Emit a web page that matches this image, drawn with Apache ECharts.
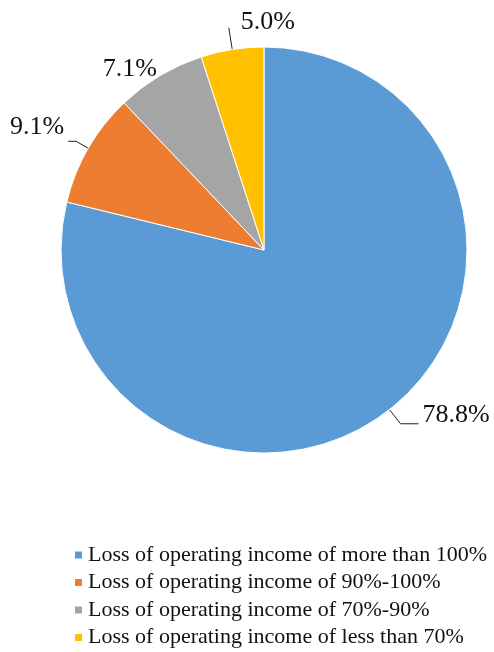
<!DOCTYPE html>
<html>
<head>
<meta charset="utf-8">
<script src="https://cdn.jsdelivr.net/npm/echarts@6/dist/echarts.min.js"></script>
<style>
  html, body { margin: 0; padding: 0; background: #fff; }
  #chart { width: 494px; height: 652px; }
</style>
</head>
<body>
<div id="chart"></div>
<script>
var categories = [
  'Loss of operating income of more than 100%',
  'Loss of operating income of 90%-100%',
  'Loss of operating income of 70%-90%',
  'Loss of operating income of less than 70%'
];
var values = [78.8, 9.1, 7.1, 5.0];
var colors = ['#5B9BD5', '#ED7D31', '#A5A5A5', '#FFC000'];

var chart = echarts.init(document.getElementById('chart'));

var data = categories.map(function (name, i) {
  return { name: name, value: values[i], itemStyle: { color: colors[i] } };
});
// per-slice label line tweaks
data[0].labelLine = { length: 18, length2: 18 };
data[1].labelLine = { length: 14, length2: 8 };
data[2].labelLine = { show: false, length: 8, length2: 0 };
data[3].labelLine = { length: 22, length2: 0 };

var option = {
  animation: false,
  backgroundColor: '#fff',
  legend: {
    orient: 'vertical',
    left: 73,
    top: 544,
    padding: 0,
    itemWidth: 9,
    itemHeight: 9,
    itemGap: 5.5,
    icon: 'rect',
    textStyle: {
      fontFamily: 'Liberation Serif',
      fontSize: 22,
      color: '#111'
    }
  },
  series: [
    {
      type: 'pie',
      center: [264, 250],
      radius: [0, 203],
      startAngle: 90,
      clockwise: true,
      avoidLabelOverlap: false,
      data: data,
      itemStyle: { borderColor: '#fff', borderWidth: 1 },
      label: {
        show: true,
        position: 'outside',
        formatter: function (p) { return p.value.toFixed(1) + '%'; },
        fontFamily: 'Liberation Serif',
        fontSize: 26,
        color: '#111',
        distanceToLabelLine: 4
      },
      labelLine: {
        show: true,
        lineStyle: { color: '#222', width: 1 }
      },
      labelLayout: function (params) {
        if (params.dataIndex === 3) {
          return { dx: params.labelRect.width + 16, dy: -6 };
        }
        if (params.dataIndex === 0) {
          return { dy: -9 };
        }
        if (params.dataIndex === 1) {
          return { dy: -14 };
        }
        if (params.dataIndex === 2) {
          return { dx: 5 };
        }
        return {};
      }
    }
  ]
};
chart.setOption(option);
</script>
</body>
</html>
